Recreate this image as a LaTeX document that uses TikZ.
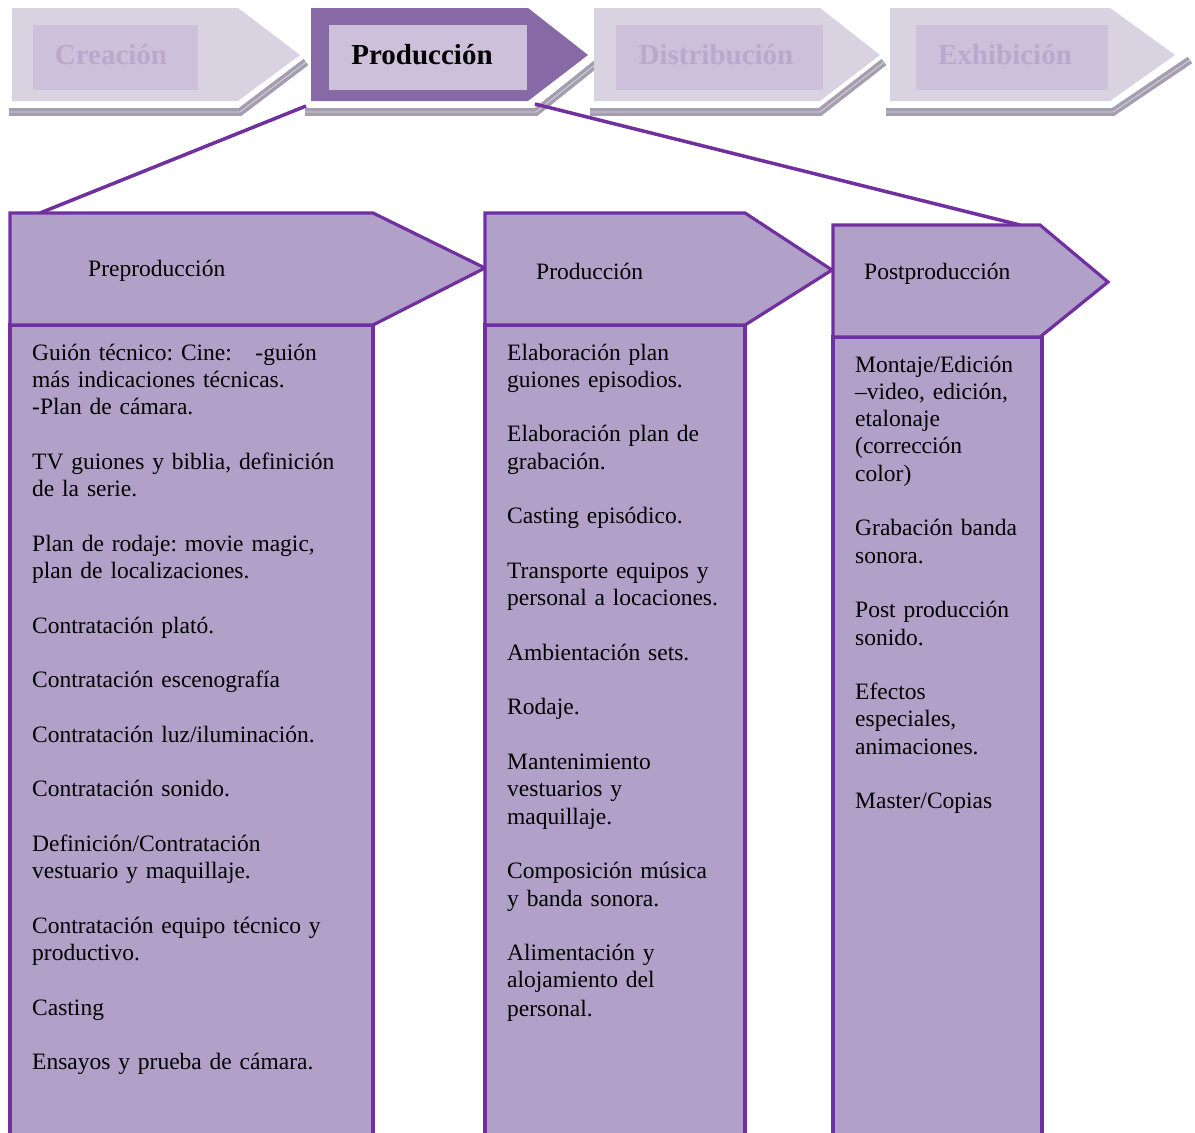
\documentclass[tikz,border=0pt]{standalone}
\usepackage{fontspec}
\setmainfont{Liberation Serif}
\frenchspacing
\definecolor{edgepurple}{HTML}{7030A0}
\definecolor{boxfill}{HTML}{B1A0C7}
\definecolor{activefill}{HTML}{8769A6}
\definecolor{innerfill}{HTML}{CCC0DA}
\definecolor{fadefill}{HTML}{D9D3E1}
\definecolor{fadetext}{HTML}{B9A9CD}
\definecolor{shadowgrey}{HTML}{A59EAF}

\begin{document}
\begin{tikzpicture}
[every node/.style={inner sep=0pt},
 topfont/.style={font=\fontsize{29}{33}\selectfont\bfseries},
 bodyfont/.style={font=\fontsize{23.5}{27.3}\selectfont},
 shadowline/.style={draw=shadowgrey, line width=3.5pt, double=fadefill, double distance=0.8pt},
 boxline/.style={draw=edgepurple, line width=3.2pt},
 linkline/.style={draw=edgepurple, line width=3.5pt}]
\useasboundingbox (0pt,0pt) rectangle (1195pt,-1133pt);
\draw [shadowline] (9pt,-112pt) -- (240pt,-112pt) -- (306pt,-62pt);
\draw [shadowline] (305pt,-112pt) -- (536pt,-112pt) -- (596pt,-64pt);
\draw [shadowline] (590pt,-112pt) -- (820pt,-112pt) -- (884pt,-62pt);
\draw [shadowline] (886pt,-112pt) -- (1113pt,-112pt) -- (1190pt,-60pt);
\fill [fadefill] (12pt,-8pt) -- (238pt,-8pt) -- (300pt,-55pt) -- (238pt,-101pt) -- (12pt,-101pt) -- cycle;
\fill [fadefill] (594pt,-8pt) -- (820pt,-8pt) -- (880pt,-55pt) -- (820pt,-101pt) -- (594pt,-101pt) -- cycle;
\fill [fadefill] (890pt,-8pt) -- (1110pt,-8pt) -- (1175pt,-55pt) -- (1110pt,-101pt) -- (890pt,-101pt) -- cycle;
\fill [activefill] (311pt,-8pt) -- (528pt,-8pt) -- (588pt,-55pt) -- (528pt,-101pt) -- (311pt,-101pt) -- cycle;
\fill [innerfill] (33pt,-25pt) rectangle (198pt,-90pt);
\fill [innerfill] (329pt,-25pt) rectangle (527pt,-90pt);
\fill [innerfill] (616pt,-25pt) rectangle (823pt,-90pt);
\fill [innerfill] (916pt,-25pt) rectangle (1108pt,-90pt);
\node (crea) [topfont, text=fadetext, anchor=base] at (111pt,-64pt) {Creación};
\node (produ) [topfont, text=black, anchor=base] at (422pt,-64pt) {Producción};
\node (distr) [topfont, text=fadetext, anchor=base] at (716pt,-64pt) {Distribución};
\node (exhib) [topfont, text=fadetext, anchor=base] at (1005pt,-64pt) {Exhibición};
\coordinate (produL) at (306pt,-106pt);
\coordinate (produR) at (535pt,-104pt);
\coordinate (preTop) at (40pt,-213pt);
\coordinate (postTop) at (1020pt,-225pt);
\draw [linkline] (produL) -- (preTop);
\draw [linkline] (produR) -- (postTop);
\fill [boxfill] (10pt,-325pt) rectangle (373pt,-1140pt);
\draw [boxline] (10pt,-1140pt) -- (10pt,-325pt) -- (373pt,-325pt) -- (373pt,-1140pt);
\draw [boxline, fill=boxfill] (10pt,-213pt) -- (373pt,-213pt) -- (485pt,-268pt) -- (373pt,-325pt) -- (10pt,-325pt) -- cycle;
\fill [boxfill] (485pt,-325pt) rectangle (745pt,-1140pt);
\draw [boxline] (485pt,-1140pt) -- (485pt,-325pt) -- (745pt,-325pt) -- (745pt,-1140pt);
\draw [boxline, fill=boxfill] (485pt,-213pt) -- (745pt,-213pt) -- (832pt,-270pt) -- (745pt,-325pt) -- (485pt,-325pt) -- cycle;
\fill [boxfill] (833pt,-337pt) rectangle (1042pt,-1140pt);
\draw [boxline] (833pt,-1140pt) -- (833pt,-337pt) -- (1042pt,-337pt) -- (1042pt,-1140pt);
\draw [boxline, fill=boxfill] (833pt,-225pt) -- (1040pt,-225pt) -- (1108pt,-282pt) -- (1040pt,-337pt) -- (833pt,-337pt) -- cycle;
\node (pre) [bodyfont, anchor=base west] at (88pt,-276pt) {Preproducción};
\node (prod) [bodyfont, anchor=base west] at (536pt,-279pt) {Producción};
\node (post) [bodyfont, anchor=base west] at (864pt,-279pt) {Postproducción};
\node (prelist) [bodyfont, anchor=base west, text width=335pt, align=left] at (32pt,-360pt) {Guión técnico: Cine:\ \ \ -guión\\más indicaciones técnicas.\\-Plan de cámara.\\[27.3pt]TV guiones y biblia, definición\\de la serie.\\[27.3pt]Plan de rodaje: movie magic,\\plan de localizaciones.\\[27.3pt]Contratación plató.\\[27.3pt]Contratación escenografía\\[27.3pt]Contratación luz/iluminación.\\[27.3pt]Contratación sonido.\\[27.3pt]Definición/Contratación\\vestuario y maquillaje.\\[27.3pt]Contratación equipo técnico y\\productivo.\\[27.3pt]Casting\\[27.3pt]Ensayos y prueba de cámara.};
\node (prodlist) [bodyfont, anchor=base west, text width=235pt, align=left] at (507pt,-360pt) {Elaboración plan\\guiones episodios.\\[27.3pt]Elaboración plan de\\grabación.\\[27.3pt]Casting episódico.\\[27.3pt]Transporte equipos y\\personal a locaciones.\\[27.3pt]Ambientación sets.\\[27.3pt]Rodaje.\\[27.3pt]Mantenimiento\\vestuarios y\\maquillaje.\\[27.3pt]Composición música\\y banda sonora.\\[27.3pt]Alimentación y\\alojamiento del\\[1.5pt]personal.};
\node (postlist) [bodyfont, anchor=base west, text width=185pt, align=left] at (855pt,-372pt) {Montaje/Edición\\–video, edición,\\etalonaje\\(corrección\\color)\\[27.3pt]Grabación banda\\sonora.\\[27.3pt]Post producción\\sonido.\\[27.3pt]Efectos\\especiales,\\animaciones.\\[27.3pt]Master/Copias};
\end{tikzpicture}
\end{document}
